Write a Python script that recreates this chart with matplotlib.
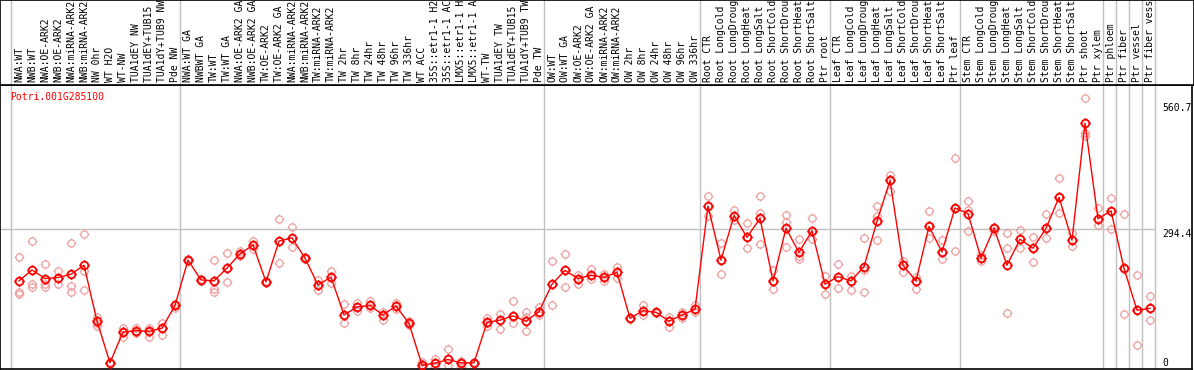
import numpy as np
import matplotlib
matplotlib.use("Agg")
import matplotlib.pyplot as plt
from matplotlib.path import Path

# Sample labels (header, rotated)
labels = [
    "NWA:WT", "NWB:WT", "NWA:OE-ARK2", "NWB:OE-ARK2", "NWA:miRNA-ARK2", "NWB:miRNA-ARK2",
    "NW 0hr", "WT H2O", "WT-NW", "TUA1dEY NW", "TUA1dEY+TUB15 NW", "TUA1dY+TUB9 NW", "Pde NW",
    "NWA:WT GA", "NWBWT GA", "TW:WT", "TW:WT GA", "NWA:OE-ARK2 GA", "NWB:OE-ARK2 GA",
    "TW:OE-ARK2", "TW:OE-ARK2 GA", "NWA:miRNA-ARK2", "NWB:miRNA-ARK2", "TW:miRNA-ARK2",
    "TW:miRNA-ARK2", "TW 2hr", "TW 8hr", "TW 24hr", "TW 48hr", "TW 96hr", "TW 336hr", "WT ACC",
    "35S::etr1-1 H2O", "35S::etr1-1 ACC", "LMX5::etr1-1 H2O", "LMX5::etr1-1 ACC", "WT-TW",
    "TUA1dEY TW", "TUA1dEY+TUB15 TW", "TUA1dY+TUB9 TW", "Pde TW",
    "OW:WT", "OW:WT GA", "OW:OE-ARK2", "OW:OE-ARK2 GA", "OW:miRNA-ARK2", "OW:miRNA-ARK2",
    "OW 2hr", "OW 8hr", "OW 24hr", "OW 48hr", "OW 96hr", "OW 336hr",
    "Root CTR", "Root LongCold", "Root LongDrought", "Root LongHeat", "Root LongSalt",
    "Root ShortCold", "Root ShortDrought", "Root ShortHeat", "Root ShortSalt", "Ptr root",
    "Leaf CTR", "Leaf LongCold", "Leaf LongDrought", "Leaf LongHeat", "Leaf LongSalt",
    "Leaf ShortCold", "Leaf ShortDrought", "Leaf ShortHeat", "Leaf ShortSalt", "Ptr leaf",
    "Stem CTR", "Stem LongCold", "Stem LongDrought", "Stem LongHeat", "Stem LongSalt",
    "Stem ShortCold", "Stem ShortDrought", "Stem ShortHeat", "Stem ShortSalt", "Ptr shoot",
    "Ptr xylem", "Ptr phloem", "Ptr fiber", "Ptr vessel", "Ptr fiber vessel",
]

# Mean expression per sample
means = [
    184, 207, 189, 191, 198, 217, 99, 11, 76, 79, 77.5, 84, 132,
    228, 186, 184, 211, 241, 260, 182, 268, 275, 232, 175, 192, 112, 129, 132, 112,
    131, 94, 6, 10, 18, 11, 11, 96.5, 101, 110, 99, 119,
    177, 206, 189, 196, 191.5, 202, 105, 121, 117.6, 99, 112, 124,
    342, 228, 322, 276, 316, 184, 295, 244, 290, 177,
    193, 184, 214, 310, 396, 217, 184, 299, 245, 338,
    326, 232, 295, 217, 272, 253, 295, 360.5, 270, 517, 315,
    332, 210.5, 122, 126,
]

# Replicates (three per sample)
rep_a = [234, 268, 219, 205, 263, 283, 107, 12, 85, 85, 85, 96, 136,
         230, 188, 228, 243, 248, 268, 183, 314, 297, 234, 186, 205, 135, 138, 141, 118,
         137, 99, 13, 20, 40, 15, 12, 106, 113, 141, 119, 129,
         226, 240, 196, 209, 199, 213, 106, 132, 119, 108, 119, 132,
         363, 263, 334, 306, 363, 207, 323, 272, 316, 194,
         219, 194, 274, 342, 408, 227, 193, 332, 270, 444,
         353, 239, 298, 285, 291, 276, 325, 401, 285, 570, 337,
         358, 325, 196, 152]
rep_b = [161, 177, 177, 191, 173, 205, 96, 11, 76, 76, 76, 85, 132,
         228, 186, 167, 211, 241, 260, 182, 269, 275, 232, 175, 192, 112, 129, 132, 112,
         131, 94, 6, 10, 18, 10, 11, 96, 101, 110, 108, 119,
         177, 206, 189, 196, 191, 202, 105, 121, 118, 99, 112, 124,
         342, 228, 322, 276, 327, 184, 309, 237, 290, 177,
         193, 184, 207, 322, 396, 217, 184, 299, 245, 338,
         334, 232, 295, 253, 272, 253, 295, 361, 270, 496, 315,
         332, 210, 122, 126]
rep_c = [156, 172, 171, 177, 161, 165, 88, 10, 66, 74, 66, 70, 126,
         226, 184, 161, 181, 237, 251, 181, 221, 255, 230, 164, 179, 94, 121, 126, 101,
         124, 91, 3, 3, 6, 3, 10, 89, 82, 94, 78, 112,
         133, 171, 177, 188, 184, 191, 104, 112, 116, 87, 105, 119,
         321, 198, 313, 253, 261, 166, 255, 230, 272, 156,
         168, 165, 161, 270, 374, 202, 167, 275, 230, 247,
         289, 225, 289, 116, 254, 224, 275, 328, 258, 489, 302,
         293, 114, 49, 101]

# group separators (after these sample indices)
group_ends = [12, 40, 52, 62, 72, 83, 84, 85, 86, 87]
gene = "Potri.001G285100"
ticks = [560.7, 294.4, 0]

W, H = 1194, 370
fig = plt.figure(figsize=(W / 100, H / 100), dpi=100)
mono = "DejaVu Sans Mono"

x = np.arange(len(means))
xlim = (-19 / 13, (1192 - 19) / 13)
ylim = ((368 - 369) / 0.4735, (368 - 85) / 0.4735)

# marker: circle with four short ticks
circ = Path.circle((0, 0), 1.0)
tk = [Path([(0, 1), (0, 1.35)]), Path([(0, -1), (0, -1.35)]),
      Path([(1, 0), (1.35, 0)]), Path([(-1, 0), (-1.35, 0)])]
mk = Path.make_compound_path(circ, *tk)

ax = fig.add_axes([0, 1 / H, 1192 / W, (369 - 85) / H])
ax.set_xlim(*xlim)
ax.set_ylim(*ylim)
ax.set_xticks([])
ax.set_yticks([])
for s in ax.spines.values():
    s.set_color("black")
    s.set_linewidth(1.2)

seps = [-0.6] + [g + 0.4 for g in group_ends]
for sx in seps:
    ax.axvline(sx, color="#c0c0c0", lw=1, zorder=0)
ax.hlines(294.4, xlim[0], seps[-1], color="#c0c0c0", lw=1, zorder=0)

for rep in (rep_a, rep_b, rep_c):
    ax.plot(x, rep, ls="none", marker=mk, ms=7, mfc="none", mec="#ee9f9f", mew=0.9, zorder=2)
ax.plot(x, means, color="red", lw=1, marker=mk, ms=7.4, mfc="none", mec="red", mew=1.3, zorder=3)

for t in ticks:
    va = "bottom" if t == 0 else "top"
    ax.text(1162 / 1192, t, f"{t:g}" if t == 0 else f"{t}", transform=ax.get_yaxis_transform(),
            ha="left", va=va, fontsize=7, family=mono, color="black")

fig.text(10 / W, 1 - 97 / H, gene, color="red", fontsize=7, family=mono, ha="left", va="center")

# header with rotated labels
hx = fig.add_axes([0, 1 - 85 / H, 1, 85 / H])
hx.set_xlim(xlim[0], xlim[0] + (xlim[1] - xlim[0]) * W / 1192)
hx.set_ylim(0, 1)
hx.set_xticks([])
hx.set_yticks([])
for s in hx.spines.values():
    s.set_color("black")
    s.set_linewidth(1.2)
for sx in seps:
    hx.axvline(sx, color="#c0c0c0", lw=1, zorder=0)
for i, lab in enumerate(labels):
    hx.text(i, 2.5 / 85, lab, rotation=90, ha="center", va="bottom", fontsize=7,
            family=mono, color="black", clip_on=True)

fig.savefig("out.png", dpi=100)
